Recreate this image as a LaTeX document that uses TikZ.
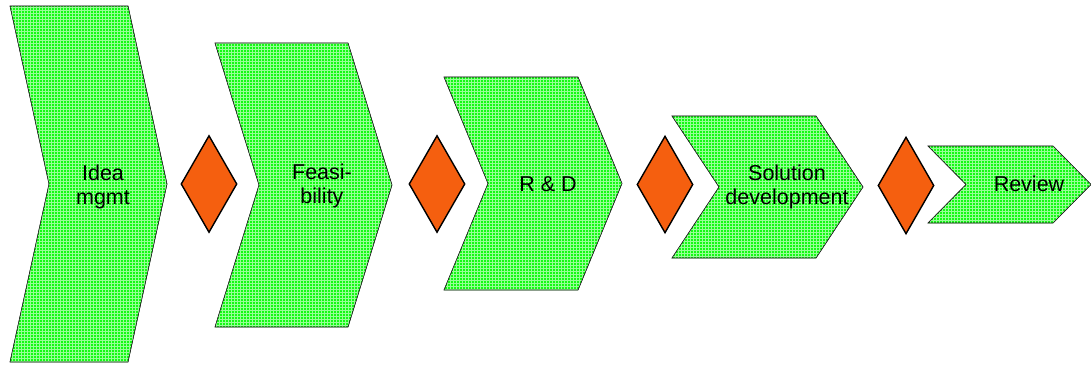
\documentclass[tikz,border=0pt]{standalone}
\usepackage{fontspec}
\setmainfont{Liberation Sans}
\usetikzlibrary{shapes.geometric,patterns}

\definecolor{stepgreen}{RGB}{20,250,20}
\definecolor{gridgreen}{RGB}{150,255,150}
\definecolor{gateorange}{RGB}{245,95,15}

\tikzset{
	phase/.style={fill=stepgreen, postaction={pattern=grid, pattern color=gridgreen},
		postaction={draw=black!85, line width=0.6pt}},
	gate/.style={diamond, draw=black, line width=1.4pt, fill=gateorange,
		minimum width=56pt, minimum height=97pt, inner sep=0pt},
	phasetext/.style={align=center, font=\fontsize{21.5}{24}\selectfont}
}

\begin{document}
\begin{tikzpicture}[x=1pt, y=-1pt]
	\useasboundingbox (0,0) rectangle (1091,364);
	
	% Cac pha (chevron)
	\foreach \xl/\yt/\xr/\yb/\dd in {10/6/128/362/39, 215/43/348/327/44,
		444/77/578/290/44, 672/116/816/258/47, 928/146/1053/223/38}
	\draw[phase] (\xl,\yt) -- (\xr,\yt) -- ({\xr+\dd},{(\yt+\yb)/2}) -- (\xr,\yb)
		-- (\xl,\yb) -- ({\xl+\dd},{(\yt+\yb)/2}) -- cycle;
	
	% Nhan cac pha
	\node[phasetext] (idea) at (103,187) {Idea\\mgmt};
	\node[phasetext] (feas) at (322,186) {Feasi-\\bility};
	\node[phasetext] (rnd) at (548,184) {R \& D};
	\node[phasetext] (sol) at (787,187) {Solution\\development};
	\node[phasetext] (rev) at (1029,184) {Review};
	
	% Cac cong quyet dinh
	\foreach \nm/\cx/\cy in {gateA/209/184, gateB/437/184, gateC/665/184.5, gateD/906/185.5}
	\node[gate] (\nm) at (\cx,\cy) {};
\end{tikzpicture}
\end{document}
